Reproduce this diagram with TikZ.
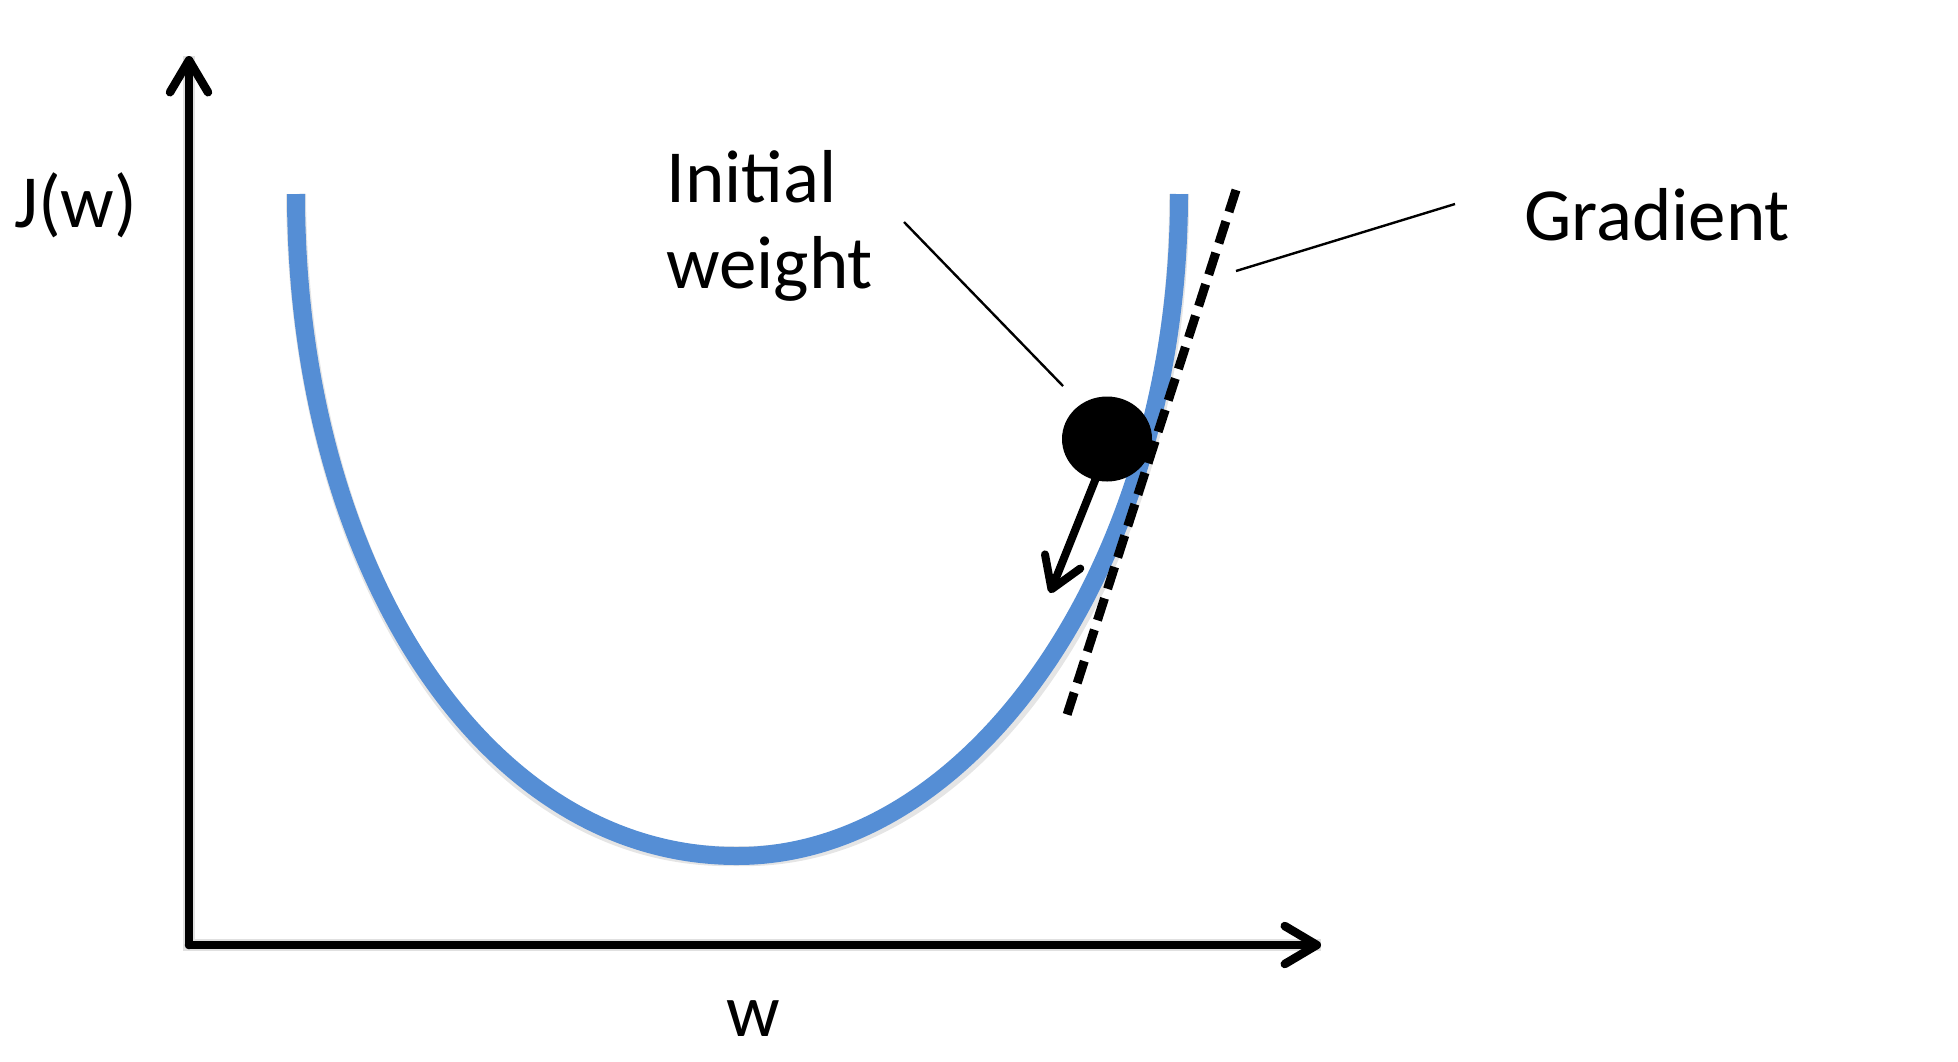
\documentclass[tikz,border=0pt]{standalone}
\usepackage{fontspec}
\setmainfont{Carlito}
\usetikzlibrary{arrows.meta,shapes.geometric}
\definecolor{curveblue}{RGB}{85,142,213}
\tikzset{
  axis/.style={line width=8.5pt, line cap=round, -{Straight Barb[length=32pt,width=38pt,line cap=round,line join=round]}},
  shadowed/.style={draw=black, opacity=0.12, line width=12pt},
  lbl/.style={font=\fontsize{75}{86}\selectfont, inner sep=0pt},
  leader/.style={line width=2.4pt},
  tangent/.style={line width=9pt, dash pattern=on 23pt off 10pt},
  descent/.style={line width=8pt, -{Straight Barb[length=30pt,width=38pt,line cap=round,line join=round]}},
}
\begin{document}
\begin{tikzpicture}[x=1pt,y=-1pt]
\useasboundingbox (0,0) rectangle (1958,1061);
% coordinates
\coordinate (origin) at (189,945);
\coordinate (ytop) at (189,56);
\coordinate (xend) at (1321,945);
\coordinate (cL) at (296,194);
\coordinate (cM) at (737,856);
\coordinate (cR) at (1179,194);
\coordinate (tanA) at (1236,190);
\coordinate (tanB) at (1065,721);
\coordinate (iwA) at (904,222);
\coordinate (iwB) at (1063,386);
\coordinate (grA) at (1455,204);
\coordinate (grB) at (1236,271);
\coordinate (stepStart) at (1096,478);
\coordinate (stepEnd) at (1050,593);
% shadows
\draw[shadowed, shift={(3,6)}] (ytop) -- (origin) -- (xend);
\draw[draw=black, opacity=0.10, line width=20pt, shift={(2,7)}] (cL) .. controls (296,560) and (480,856) .. (cM) .. controls (975,856) and (1179,560) .. (cR);
% axes
\draw[axis] (origin) -- (ytop);
\draw[axis] (origin) -- (xend);
% cost curve
\draw[curveblue, line width=18pt] (cL) .. controls (296,560) and (480,856) .. (cM) .. controls (975,856) and (1179,560) .. (cR);
% tangent
\draw[tangent] (tanA) -- (tanB);
% ball
\node[ellipse, fill=black, minimum width=90pt, minimum height=85pt, inner sep=0pt] (ball) at (1107,439) {};
\draw[descent] (stepStart) -- (stepEnd);
% labels
\node[lbl, anchor=base west] (J) at (14,227) {J(w)};
\node[lbl, anchor=base] (W) at (753,1036) {w};
\node[lbl, anchor=base west, align=left] (init) at (666,288) {Initial\\weight};
\node[lbl, anchor=base west] (grad) at (1524,240) {Gradient};
% leaders
\draw[leader] (iwA) -- (iwB);
\draw[leader] (grA) -- (grB);
\end{tikzpicture}
\end{document}
